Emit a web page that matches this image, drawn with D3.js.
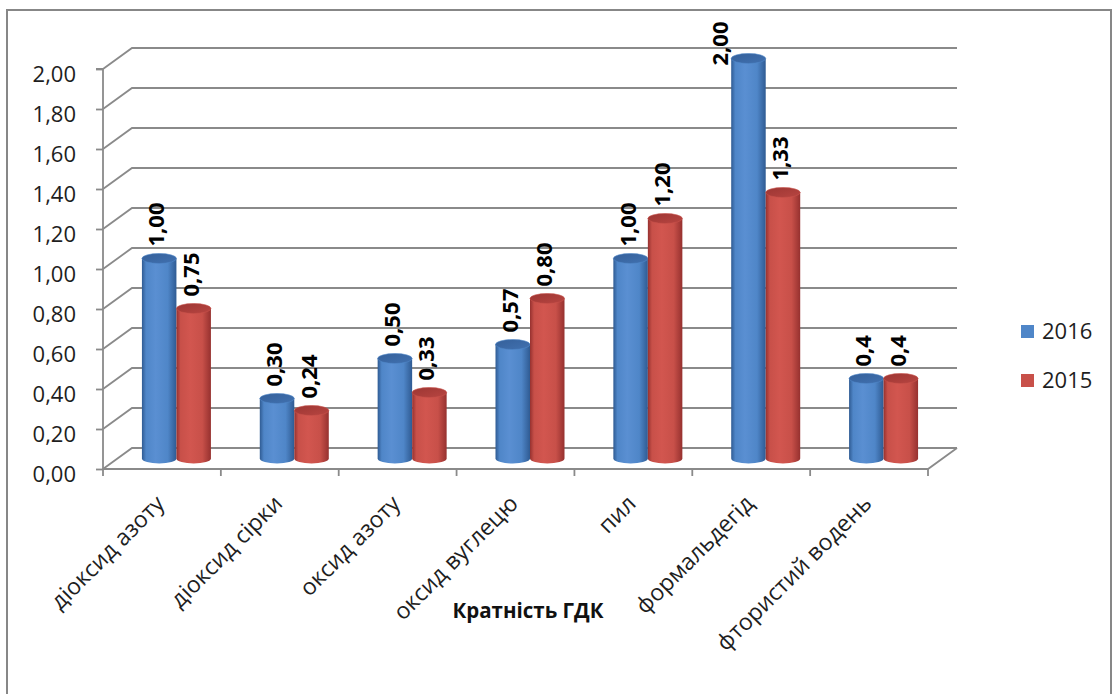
<!DOCTYPE html>
<html>
<head>
<meta charset="utf-8">
<script src="https://cdn.jsdelivr.net/npm/d3@7"></script>
<style>
  html, body { margin: 0; padding: 0; background: #fff; }
  svg { display: block; font-family: "Open Sans", "Noto Sans", sans-serif; }
</style>
</head>
<body>
<svg id="chart" width="1116" height="694"></svg>
<script>
// Кратність ГДК по забруднюючих речовинах, 2016 та 2015 роки
const categories = ["діоксид азоту", "діоксид сірки", "оксид азоту", "оксид вуглецю", "пил", "формальдегід", "фтористий водень"];
const seriesNames = ["2016", "2015"];
const values2016 = [1.00, 0.30, 0.50, 0.57, 1.00, 2.00, 0.4];
const values2015 = [0.75, 0.24, 0.33, 0.80, 1.20, 1.33, 0.4];
const labelDecimals = [2, 2, 2, 2, 2, 2, 1];
const yTicks = [0, 0.2, 0.4, 0.6, 0.8, 1.0, 1.2, 1.4, 1.6, 1.8, 2.0];
const axisTitle = "Кратність ГДК";

const colors = {
  "2016": { edge: "#2f5b93", mid: "#5a8fd2", light: "#4f86c8", top: "#4171b0", topEdge: "#35609a" },
  "2015": { edge: "#96312f", mid: "#d2564f", light: "#c85049", top: "#b84541", topEdge: "#9c3633" }
};

const svg = d3.select("#chart");
const comma = (v, d) => d3.format("." + d + "f")(v).replace(".", ",");

// plot frame: front face and depth offset of the 3-D box
const front = { left: 103, right: 928, bottom: 469, top: 69 };
const depth = { dx: 29, dy: -21 };

const y = d3.scaleLinear().domain([0, 2]).range([front.bottom, front.top]);
const x0 = d3.scaleBand().domain(categories).range([front.left, front.right]);
const pairWidth = 69;
const x1 = d3.scaleBand().domain(seriesNames).range([0, pairWidth]);

// outer chart border
svg.append("rect")
  .attr("x", 7).attr("y", 10).attr("width", 1104).attr("height", 700)
  .attr("fill", "none").attr("stroke", "#878787").attr("stroke-width", 2);

const gridColor = "#8a8a8a";
const grid = svg.append("g").attr("stroke", gridColor).attr("stroke-width", 1.8).attr("fill", "none");

// back wall gridlines + side-wall diagonals
yTicks.forEach(t => {
  const yy = y(t);
  grid.append("path")
    .attr("d", `M${front.left},${yy} L${front.left + depth.dx},${yy + depth.dy} L${front.right + depth.dx},${yy + depth.dy}`);
});

// floor edges
grid.append("path")
  .attr("d", `M${front.left},${y(0)} L${front.right},${y(0)} L${front.right + depth.dx},${y(0) + depth.dy}`);

// value axis
const yAxis = d3.axisLeft(y).tickValues(yTicks).tickSize(7).tickPadding(20)
  .tickFormat(v => comma(v, 2));
const gy = svg.append("g").attr("transform", `translate(${front.left},0)`).call(yAxis);
gy.select(".domain").attr("stroke", gridColor).attr("stroke-width", 1.8)
  .attr("d", `M-7,${y(2)}H0V${y(0)}`);
gy.selectAll(".tick line").attr("stroke", gridColor).attr("stroke-width", 1.8);
gy.selectAll(".tick text")
  .attr("font-size", 22).attr("fill", "#1e1e1e")
  .attr("font-family", "'Open Sans','Noto Sans',sans-serif")
  .attr("dy", null).attr("y", 12);

// category axis
const xAxis = d3.axisBottom(x0).tickSize(7).tickSizeOuter(0).tickFormat("");
const gx = svg.append("g").attr("transform", `translate(0,${y(0)})`).call(xAxis);
gx.select(".domain").remove();
gx.selectAll(".tick").remove();
const boundaries = d3.range(categories.length + 1).map(i => front.left + i * x0.step());
gx.selectAll("line.cat")
  .data(boundaries).join("line")
  .attr("x1", d => d).attr("x2", d => d).attr("y1", 0).attr("y2", 7)
  .attr("stroke", gridColor).attr("stroke-width", 1.8);

svg.append("g").selectAll("text")
  .data(categories).join("text")
  .attr("transform", d => `translate(${x0(d) + x0.bandwidth() / 2 + 4},${y(0) + 36}) rotate(-45)`)
  .attr("text-anchor", "end")
  .attr("font-size", 23).attr("fill", "#1e1e1e")
  .text(d => d);

// axis title
svg.append("text")
  .attr("x", 528).attr("y", 618)
  .attr("text-anchor", "middle").attr("font-size", 20.5).attr("font-weight", "bold")
  .attr("fill", "#111")
  .text(axisTitle);

// gradients for cylinder shading
const defs = svg.append("defs");
seriesNames.forEach(s => {
  const c = colors[s];
  const g = defs.append("linearGradient").attr("id", "body" + s)
    .attr("x1", "0%").attr("x2", "100%").attr("y1", "0%").attr("y2", "0%");
  g.append("stop").attr("offset", "0%").attr("stop-color", c.edge);
  g.append("stop").attr("offset", "12%").attr("stop-color", c.light);
  g.append("stop").attr("offset", "40%").attr("stop-color", c.mid);
  g.append("stop").attr("offset", "75%").attr("stop-color", c.light);
  g.append("stop").attr("offset", "100%").attr("stop-color", c.edge);
  const t = defs.append("linearGradient").attr("id", "top" + s)
    .attr("x1", "0%").attr("x2", "100%").attr("y1", "0%").attr("y2", "100%");
  t.append("stop").attr("offset", "0%").attr("stop-color", c.topEdge);
  t.append("stop").attr("offset", "100%").attr("stop-color", c.top);
});

const rows = [];
categories.forEach((cat, i) => {
  [values2016[i], values2015[i]].forEach((v, k) => {
    rows.push({ cat, series: seriesNames[k], value: v, dec: labelDecimals[i] });
  });
});

const ry = 5;
const half = { dx: depth.dx / 2, dy: depth.dy / 2 };
const barX = d => x0(d.cat) + (x0.bandwidth() - pairWidth) / 2 + x1(d.series) + half.dx;

const bars = svg.append("g");
rows.forEach(d => {
  const xl = barX(d), w = x1.bandwidth(), xr = xl + w, rx = w / 2;
  const yb = y(0) + half.dy, yt = y(d.value) + half.dy;
  const g = bars.append("g");
  g.append("path")
    .attr("d", `M${xl},${yt} L${xl},${yb} A${rx},${ry} 0 0 0 ${xr},${yb} L${xr},${yt} Z`)
    .attr("fill", `url(#body${d.series})`);
  g.append("ellipse")
    .attr("cx", xl + rx).attr("cy", yt).attr("rx", rx).attr("ry", ry)
    .attr("fill", `url(#top${d.series})`)
    .attr("stroke", colors[d.series].light).attr("stroke-width", 0.6);
});

// value labels, rotated, above each cylinder
const labels = svg.append("g");
rows.forEach(d => {
  const xl = barX(d), w = x1.bandwidth();
  const yt = y(d.value) + half.dy;
  const t = labels.append("text")
    .attr("font-size", 22).attr("font-weight", "bold").attr("fill", "#000")
    .text(comma(d.value, d.dec));
  const len = t.node().getComputedTextLength();
  let lx = xl + w / 2 + 5, ly = yt - 12;
  if (ly - len < 18) {
    // no room above: set beside the cylinder top
    lx = xl - 3; ly = yt + 7;
  }
  t.attr("transform", `translate(${lx},${ly}) rotate(-90)`);
});

// legend
const legend = svg.append("g");
seriesNames.forEach((s, i) => {
  const ly = 325 + i * 49;
  legend.append("rect").attr("x", 1021).attr("y", ly).attr("width", 13).attr("height", 13)
    .attr("fill", colors[s].light);
  legend.append("text").attr("x", 1042).attr("y", ly + 14)
    .attr("font-size", 22).attr("fill", "#1e1e1e").text(s);
});
</script>
</body>
</html>
